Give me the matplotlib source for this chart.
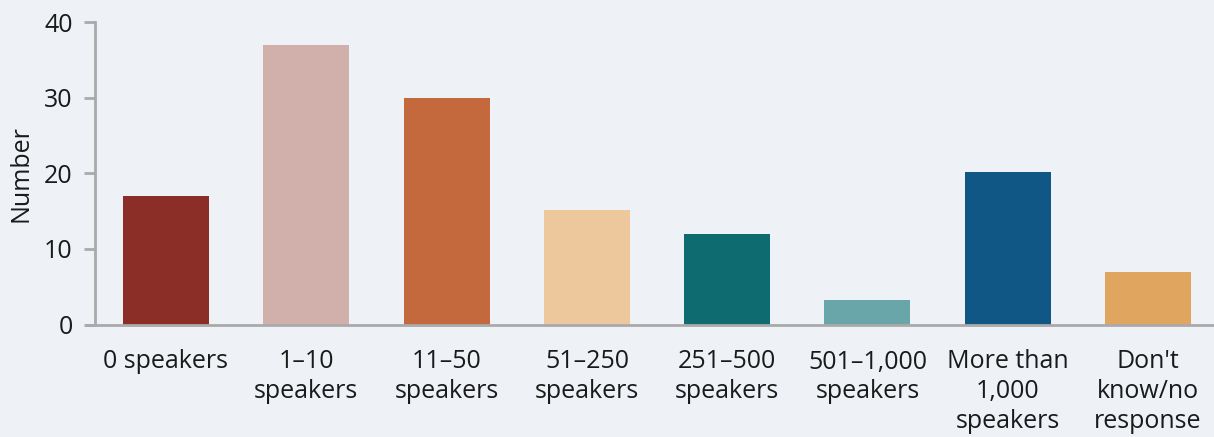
import matplotlib
matplotlib.use("Agg")
import matplotlib.pyplot as plt

categories = ["0 speakers", "1–10\nspeakers", "11–50\nspeakers", "51–250\nspeakers",
              "251–500\nspeakers", "501–1,000\nspeakers", "More than\n1,000\nspeakers",
              "Don't\nknow/no\nresponse"]
values = [17, 37, 30, 15.2, 12, 3.2, 20.1, 7]
colors = ["#8b2e28", "#d1afaa", "#c4693d", "#eec89d", "#0e6b70", "#68a6a9", "#105786", "#e0a55e"]
yticks = [0, 10, 20, 30, 40]

plt.rcParams['font.family'] = ['Open Sans', 'DejaVu Sans']
bg = "#eef2f7"
fig = plt.figure(figsize=(12.14, 4.37), dpi=100, facecolor=bg)
ax = fig.add_axes([95/1214, 1-324.5/437, (1214-95)/1214, (324.5-22)/437], facecolor=bg)
x = list(range(len(categories)))
ax.bar(x, values, width=0.613, color=colors, zorder=2)
ax.set_xlim(-0.506, 7.47)
ax.set_ylim(0, 40)
ax.set_yticks(yticks)
ax.set_xticks(x)
ax.set_xticklabels(categories, fontsize=18, color="#1a1a1a", linespacing=1.25)
ax.tick_params(axis='y', labelsize=18, labelcolor="#1a1a1a", length=8, width=2, color="#aaaaaa", pad=8)
ax.tick_params(axis='x', length=0, pad=18)
for s in ['top', 'right']:
    ax.spines[s].set_visible(False)
for s in ['left', 'bottom']:
    ax.spines[s].set_color("#aaaaaa")
    ax.spines[s].set_linewidth(2)
ax.spines['bottom'].set_bounds(-0.506 - 8/140.3, 7.47)
ax.spines['bottom'].set_clip_on(False)
ax.set_ylabel("Number", fontsize=18, color="#1a1a1a", labelpad=8)
fig.savefig("out.png", dpi=100, facecolor=bg)
